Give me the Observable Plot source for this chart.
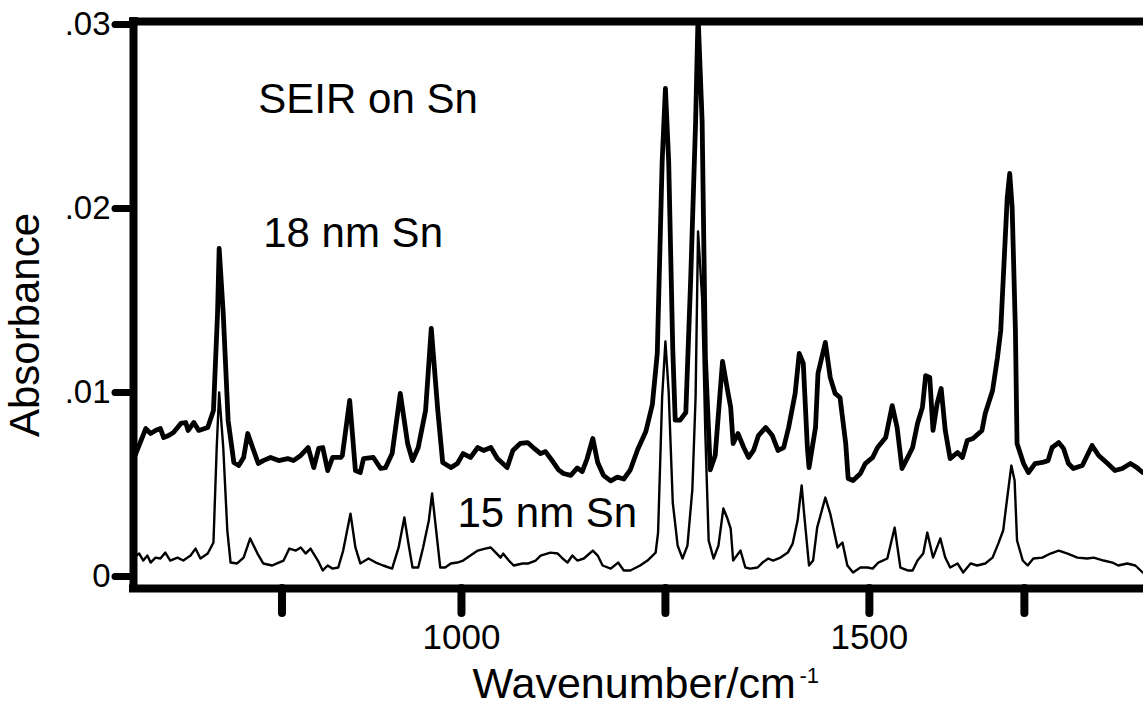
<!DOCTYPE html>
<html><head><meta charset="utf-8">
<script src="https://cdn.jsdelivr.net/npm/d3@7"></script>
<script src="https://cdn.jsdelivr.net/npm/@observablehq/plot@0.6"></script>
<style>html,body{margin:0;padding:0;background:#fff;overflow:hidden}</style>
</head><body><div id="chart"></div>
<script>
// 18 nm Sn spectrum (upper, thick)
const wn18 = [600,613,619,625,631,635,641,647,656,662,665,672,678,689,696,701,703,708,714,721,727,733,738,744,751,757,766,776,787,794,803,812,819,825,830,836,842,852,854,863,870,876,880,892,901,907,915,925,934,940,947,956,963,971,977,987,995,1002,1011,1020,1027,1036,1044,1056,1063,1072,1081,1088,1097,1103,1112,1119,1125,1134,1142,1148,1154,1161,1167,1174,1183,1191,1199,1207,1216,1226,1234,1240,1246,1250,1254,1259,1262,1268,1275,1281,1287,1290,1295,1299,1305,1311,1320,1326,1330,1333,1339,1346,1352,1358,1364,1373,1381,1388,1395,1401,1409,1414,1419,1424,1426,1434,1437,1446,1452,1458,1464,1471,1474,1480,1489,1495,1504,1510,1520,1528,1534,1540,1547,1553,1559,1565,1569,1574,1578,1583,1588,1593,1599,1608,1614,1620,1627,1638,1642,1651,1657,1661,1665,1669,1672,1675,1679,1681,1689,1695,1703,1712,1719,1724,1732,1738,1744,1750,1761,1767,1773,1781,1792,1801,1810,1820,1828,1835];
const abs18 = [0.00658,0.00804,0.00777,0.00794,0.00804,0.00755,0.00766,0.00783,0.00832,0.00837,0.00794,0.00837,0.00794,0.0081,0.00902,0.01429,0.01783,0.01429,0.00848,0.0062,0.00603,0.00647,0.00777,0.00701,0.00614,0.0063,0.00647,0.0063,0.00641,0.0063,0.00658,0.00701,0.00592,0.00696,0.00701,0.00576,0.00647,0.00647,0.00658,0.00957,0.00576,0.00565,0.00641,0.00647,0.00587,0.00592,0.00668,0.00995,0.00723,0.0063,0.00701,0.00902,0.01348,0.00902,0.0062,0.00592,0.00614,0.00668,0.00647,0.00701,0.00685,0.00701,0.00641,0.00592,0.00685,0.00723,0.00728,0.00701,0.00668,0.00679,0.00625,0.0058,0.0056,0.0055,0.0059,0.0057,0.0064,0.0075,0.0062,0.0055,0.0052,0.0054,0.0053,0.0058,0.0069,0.00788,0.00935,0.01212,0.02256,0.02652,0.02256,0.01234,0.0085,0.0085,0.00891,0.0162,0.02473,0.0305,0.02473,0.0119,0.0058,0.00658,0.01169,0.01016,0.00919,0.00723,0.00777,0.00701,0.00647,0.00685,0.00766,0.0081,0.00766,0.00685,0.00701,0.0081,0.00995,0.01212,0.01158,0.00701,0.00592,0.0081,0.01103,0.01272,0.01082,0.00995,0.00973,0.00723,0.00533,0.00522,0.0056,0.00614,0.00647,0.00701,0.00755,0.00929,0.0081,0.00587,0.00647,0.00701,0.00832,0.00919,0.01092,0.01082,0.00794,0.0094,0.01022,0.00794,0.00641,0.00674,0.00647,0.00739,0.0075,0.00794,0.00886,0.01011,0.0119,0.01337,0.01701,0.0206,0.0219,0.02006,0.01337,0.00723,0.00614,0.00565,0.00614,0.0062,0.0063,0.00701,0.00728,0.00696,0.00614,0.00587,0.00603,0.00658,0.00712,0.00658,0.00614,0.00576,0.00587,0.00614,0.00592,0.00565];

// 15 nm Sn spectrum (lower, thin)
const wn15 = [600,605,610,615,619,625,631,637,643,652,659,668,674,680,689,696,700,703,708,713,717,725,733,741,750,757,768,776,782,789,797,803,809,815,824,830,836,842,849,855,864,870,876,886,895,904,915,923,930,935,940,947,953,960,964,969,974,980,987,995,1002,1011,1020,1029,1036,1042,1048,1051,1058,1064,1075,1082,1091,1097,1109,1118,1124,1130,1136,1142,1150,1161,1167,1173,1183,1192,1199,1207,1219,1228,1238,1241,1246,1250,1254,1259,1265,1271,1277,1283,1287,1290,1295,1299,1303,1309,1315,1321,1326,1330,1333,1342,1348,1354,1363,1369,1376,1382,1391,1400,1406,1412,1417,1420,1426,1431,1436,1446,1452,1461,1467,1473,1480,1489,1498,1504,1511,1522,1531,1538,1547,1553,1559,1566,1571,1578,1587,1593,1599,1608,1615,1624,1632,1642,1651,1658,1664,1669,1674,1678,1681,1688,1694,1701,1712,1722,1732,1743,1755,1767,1775,1787,1798,1805,1816,1826,1835];
const abs15 = [0.0011,0.00125,0.00087,0.00114,0.00076,0.00103,0.00098,0.0013,0.00087,0.00103,0.00087,0.00114,0.00152,0.00098,0.00125,0.00185,0.00701,0.01,0.00701,0.0025,0.00076,0.00071,0.00103,0.00207,0.00125,0.00071,0.0006,0.00076,0.00087,0.00152,0.00141,0.00158,0.00125,0.00152,0.00087,0.00033,0.0006,0.00043,0.00049,0.00141,0.00342,0.00158,0.00071,0.00098,0.00076,0.0006,0.00043,0.00158,0.00321,0.00179,0.00049,0.00049,0.00158,0.00304,0.00451,0.0025,0.00049,0.00049,0.00071,0.00076,0.00087,0.00114,0.00141,0.00152,0.00158,0.0013,0.00103,0.00125,0.00087,0.0006,0.00071,0.00071,0.00087,0.00114,0.0013,0.00125,0.00098,0.00076,0.00114,0.00087,0.00098,0.00141,0.00114,0.0006,0.00043,0.00076,0.00033,0.00033,0.0006,0.00087,0.0013,0.00239,0.00978,0.01277,0.01,0.00402,0.00168,0.00098,0.00168,0.00473,0.00978,0.01875,0.01511,0.00766,0.00196,0.00098,0.00168,0.0037,0.00315,0.00261,0.00087,0.00141,0.00049,0.00043,0.00049,0.00076,0.00098,0.00087,0.00103,0.0013,0.00179,0.00304,0.00495,0.00342,0.0006,0.00087,0.00266,0.00429,0.00342,0.00158,0.00185,0.0006,0.00022,0.00049,0.00049,0.00043,0.00076,0.00098,0.00266,0.00049,0.00033,0.00033,0.00087,0.00125,0.00239,0.00103,0.00207,0.00103,0.00049,0.00071,0.00022,0.00071,0.0006,0.00071,0.00103,0.00179,0.0025,0.00429,0.00603,0.00522,0.00196,0.00087,0.0006,0.00098,0.00103,0.00125,0.00141,0.00125,0.00103,0.00098,0.00103,0.00087,0.00076,0.0006,0.00071,0.0006,0.00022];

// axes
const yTicks = [0, 0.01, 0.02, 0.03];
const xTicks = [780, 1000, 1250, 1500, 1690];
const xTickLabels = {1000: "1000", 1500: "1500"};

// annotations
const labelText = ["SEIR on Sn", "18 nm Sn", "15 nm Sn"];
const labelWn = [751, 757, 995];
const labelAbs = [0.0252, 0.0179, 0.0027];

const upper = wn18.map((x, i) => ({x, y: abs18[i]}));
const lower = wn15.map((x, i) => ({x, y: abs15[i]}));
const labels = labelText.map((t, i) => ({t, x: labelWn[i], y: labelAbs[i]}));

const xDomain = [598, 1836];
const yDomain = [-0.00065, 0.03016];
const font = "'Liberation Sans', Arial, Helvetica, sans-serif";

const chart = Plot.plot({
  width: 1143,
  height: 708,
  marginLeft: 133,
  marginRight: 0,
  marginTop: 21,
  marginBottom: 120,
  x: {domain: xDomain, label: null},
  y: {domain: yDomain, label: null},
  style: {fontFamily: font, color: "#000", background: "#fff"},
  marks: [
    Plot.line(lower, {x: "x", y: "y", stroke: "#000", strokeWidth: 2.4, strokeLinejoin: "round", clip: true}),
    Plot.line(upper, {x: "x", y: "y", stroke: "#000", strokeWidth: 4.8, strokeLinejoin: "round", clip: true}),
    Plot.ruleX([xDomain[0]], {stroke: "#000", strokeWidth: 8, strokeLinecap: "square"}),
    Plot.ruleY([yDomain[1]], {stroke: "#000", strokeWidth: 8, strokeLinecap: "square"}),
    Plot.ruleY([yDomain[0]], {stroke: "#000", strokeWidth: 8, strokeLinecap: "square"}),
    Plot.axisY(yTicks, {tickSize: 18, strokeWidth: 7, strokeLinecap: "round", tickPadding: 5, fontSize: 33, label: null,
      tickFormat: d => d === 0 ? "0" : d.toFixed(2).replace(/^0/, "")}),
    Plot.axisX(xTicks, {tickSize: 25, strokeWidth: 8, strokeLinecap: "round", tickPadding: 11, fontSize: 35, label: null,
      tickFormat: d => xTickLabels[d] ?? ""}),
    Plot.text(labels, {x: "x", y: "y", text: "t", textAnchor: "start", lineAnchor: "bottom", fontSize: 42, fill: "#000"}),
    Plot.text(["Absorbance"], {frameAnchor: "left", textAnchor: "middle", lineAnchor: "middle", rotate: -90, dx: -108, dy: 20, fontSize: 42, fill: "#000"}),
    Plot.text(["Wavenumber/cm"], {frameAnchor: "bottom", textAnchor: "start", lineAnchor: "bottom", dx: -166, dy: 109, fontSize: 43, fill: "#000"}),
    Plot.text(["-1"], {frameAnchor: "bottom", textAnchor: "start", lineAnchor: "bottom", dx: 161, dy: 94, fontSize: 22, fill: "#000"})
  ]
});
document.getElementById("chart").appendChild(chart);
</script>
</body></html>
